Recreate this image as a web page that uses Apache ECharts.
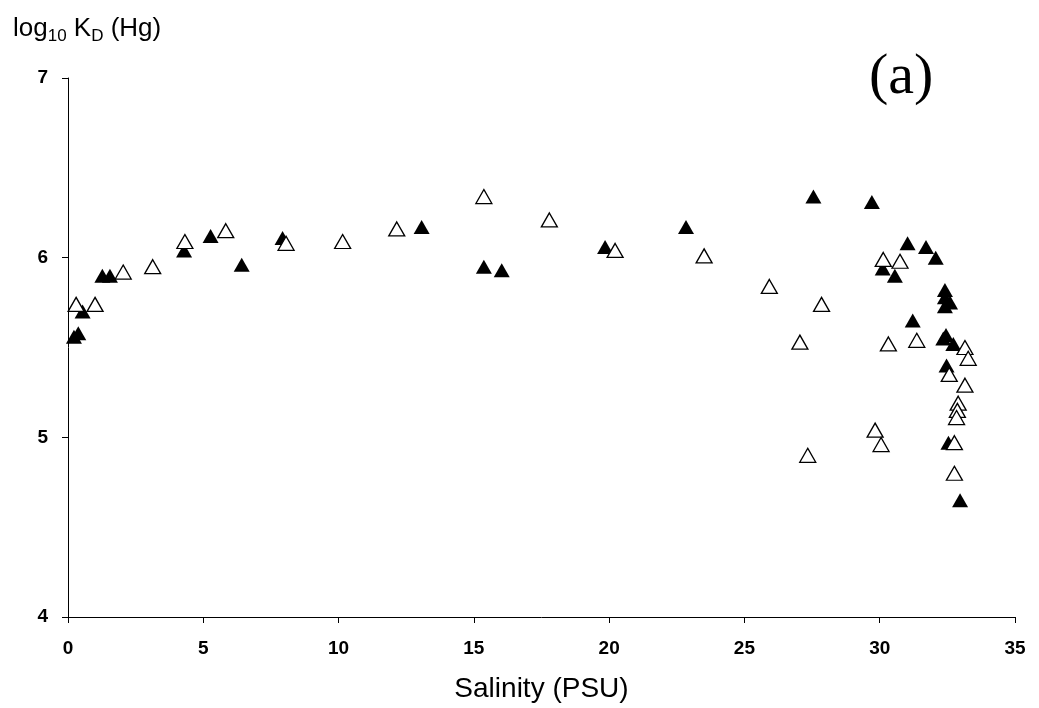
<!DOCTYPE html>
<html>
<head>
<meta charset="utf-8">
<title>log10 KD (Hg) vs Salinity</title>
<script src="https://cdn.jsdelivr.net/npm/echarts@6/dist/echarts.min.js"></script>
<style>
  html, body { margin: 0; padding: 0; background: #fff; }
  #chart { width: 1039px; height: 708px; }
</style>
</head>
<body>
<div id="chart"></div>
<script>
// Filled triangles: salinity (PSU) and log10 KD (Hg)
const filledSalinity = [0.22, 0.38, 0.54, 1.27, 1.55, 4.29, 5.27, 6.42, 7.93, 13.07, 15.37, 16.03, 19.85, 22.84, 27.55, 29.71, 30.11, 30.56, 31.03, 31.71, 32.07, 32.41, 32.41, 32.41, 32.60, 31.22, 32.35, 32.45, 32.72, 32.47, 32.54, 32.97];
const filledLogKd    = [5.56, 5.58, 5.70, 5.90, 5.90, 6.04, 6.12, 5.96, 6.11, 6.17, 5.95, 5.93, 6.06, 6.17, 6.34, 6.31, 5.94, 5.90, 6.08, 6.06, 6.00, 5.82, 5.78, 5.73, 5.75, 5.65, 5.55, 5.57, 5.52, 5.40, 4.97, 4.65];

// Open triangles
const openSalinity = [0.30, 1.00, 2.04, 3.13, 4.32, 5.83, 8.06, 10.15, 12.15, 15.37, 17.79, 20.22, 23.51, 25.92, 27.05, 27.34, 27.85, 29.83, 30.05, 30.13, 30.75, 30.32, 31.37, 33.15, 33.27, 32.57, 33.15, 32.90, 32.87, 32.84, 32.76, 32.76];
const openLogKd    = [5.74, 5.74, 5.92, 5.95, 6.09, 6.15, 6.08, 6.09, 6.16, 6.34, 6.21, 6.04, 6.01, 5.84, 5.53, 4.90, 5.74, 5.04, 4.96, 5.99, 5.98, 5.52, 5.54, 5.50, 5.44, 5.35, 5.29, 5.19, 5.15, 5.11, 4.97, 4.80];

// Axis settings
const xTicks = { min: 0, max: 35, interval: 5 };
const yTicks = { min: 4, max: 7, interval: 1 };

const pairs = (xs, ys) => xs.map((x, i) => [x, ys[i]]);

const chart = echarts.init(document.getElementById('chart'), null, { renderer: 'canvas' });

const sans = 'Liberation Sans, Arial, sans-serif';

const axisCommon = {
  axisLine: { show: true, onZero: false, lineStyle: { color: '#000', width: 1 } },
  axisTick: { show: true, inside: false, length: 6, lineStyle: { color: '#000', width: 1 } },
  splitLine: { show: false },
  axisLabel: { color: '#000', fontFamily: sans, fontWeight: 'bold', fontSize: 19 }
};

chart.setOption({
  animation: false,
  backgroundColor: '#fff',
  title: [
    {
      text: '{m|log}{s|10}{m| K}{s|D}{m| (Hg)}',
      left: 8,
      top: 8,
      textStyle: {
        fontWeight: 'normal',
        rich: {
          m: { fontFamily: sans, fontSize: 26, fontWeight: 'normal', color: '#000', lineHeight: 32 },
          s: { fontFamily: sans, fontSize: 17, fontWeight: 'normal', color: '#000', lineHeight: 14, verticalAlign: 'bottom' }
        }
      }
    },
    {
      text: '(a)',
      left: 864,
      top: 44,
      textStyle: { fontFamily: 'Liberation Serif, Times New Roman, serif', fontSize: 58, fontWeight: 'normal', color: '#000' }
    }
  ],
  grid: { left: 68, right: 24, top: 78, bottom: 91, containLabel: false },
  xAxis: Object.assign({}, axisCommon, {
    type: 'value',
    min: xTicks.min, max: xTicks.max, interval: xTicks.interval,
    name: 'Salinity (PSU)',
    nameLocation: 'middle',
    nameGap: 58,
    nameTextStyle: { fontFamily: sans, fontSize: 28, color: '#000' },
    axisLabel: Object.assign({}, axisCommon.axisLabel, { margin: 22 })
  }),
  yAxis: Object.assign({}, axisCommon, {
    type: 'value',
    min: yTicks.min, max: yTicks.max, interval: yTicks.interval,
    axisLabel: Object.assign({}, axisCommon.axisLabel, { margin: 20 })
  }),
  series: [
    {
      type: 'scatter',
      name: 'filled',
      data: pairs(filledSalinity, filledLogKd),
      symbol: 'triangle',
      symbolSize: [16, 14],
      itemStyle: { color: '#000', borderWidth: 0, opacity: 1 },
      z: 2
    },
    {
      type: 'scatter',
      name: 'open',
      data: pairs(openSalinity, openLogKd),
      symbol: 'triangle',
      symbolSize: [16, 14],
      itemStyle: { color: '#fff', borderColor: '#000', borderWidth: 1.3, opacity: 1 },
      z: 3
    }
  ]
});
</script>
</body>
</html>
